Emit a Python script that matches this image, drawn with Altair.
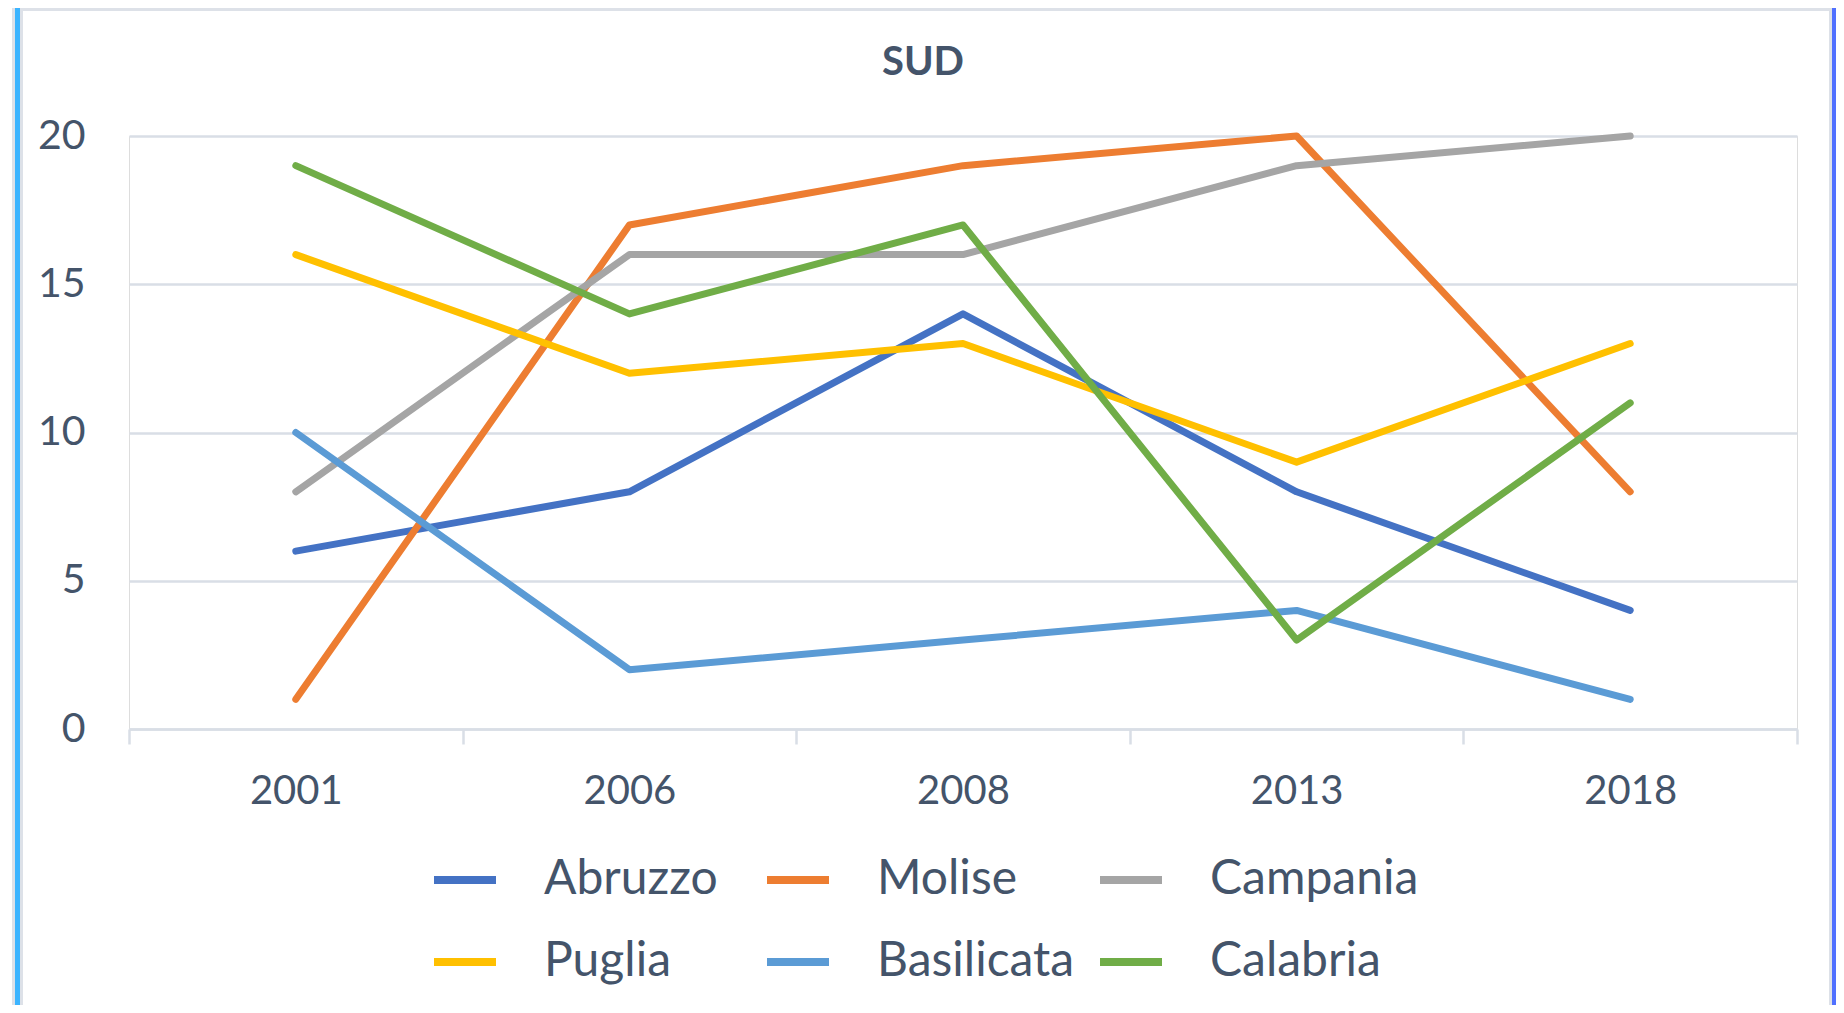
import altair as alt
import pandas as pd

years = ["2001", "2006", "2008", "2013", "2018"]
series = ["Abruzzo", "Molise", "Campania", "Puglia", "Basilicata", "Calabria"]
colors = ["#4472C4", "#ED7D31", "#A5A5A5", "#FFC000", "#5B9BD5", "#70AD47"]

abruzzo = [6, 8, 14, 8, 4]
molise = [1, 17, 19, 20, 8]
campania = [8, 16, 16, 19, 20]
puglia = [16, 12, 13, 9, 13]
basilicata = [10, 2, 3, 4, 1]
calabria = [19, 14, 17, 3, 11]

values = [abruzzo, molise, campania, puglia, basilicata, calabria]
rows = []
for name, vals in zip(series, values):
    for yr, v in zip(years, vals):
        rows.append({"Anno": yr, "Regione": name, "Valore": v})
df = pd.DataFrame(rows)

FONT = "Lato"
TEXT = "#44546A"
GRID = "#D9DEE6"

x_enc = alt.X(
    "Anno:N",
    sort=years,
    bandPosition=0.5,
    scale=alt.Scale(type="band", paddingInner=0, paddingOuter=0),
    axis=alt.Axis(
        title=None, labelAngle=0, labelFont=FONT, labelFontSize=40, labelColor=TEXT,
        domainColor=GRID, domainWidth=2.5, tickColor=GRID, tickWidth=2.5, tickSize=15,
        tickBand="extent", labelPadding=27, grid=False,
    ),
)
y_enc = alt.Y(
    "Valore:Q",
    scale=alt.Scale(domain=[0, 20], nice=False),
    axis=alt.Axis(
        title=None, values=[0, 5, 10, 15, 20], labelFont=FONT, labelFontSize=41,
        labelColor=TEXT, domain=False, ticks=False, tickSize=0, labelPadding=44,
        gridColor=GRID, gridWidth=2.5,
    ),
)
color_enc = alt.Color(
    "Regione:N",
    sort=series,
    scale=alt.Scale(domain=series, range=colors),
    legend=alt.Legend(
        title=None, orient="none", legendX=301, legendY=709, direction="horizontal",
        columns=3, gridAlign="all", columnPadding=-2, rowPadding=23, padding=0,
        symbolType="stroke", symbolSize=3844, symbolStrokeWidth=8,
        labelFont=FONT, labelFontSize=48, labelColor=TEXT, labelOffset=44,
        labelLimit=500,
    ),
)

base = alt.Chart(df).mark_line(strokeWidth=7, strokeCap="round", strokeJoin="round").encode(
    x=x_enc, y=y_enc, color=color_enc
)
lines = [base.transform_filter(alt.datum.Regione == s) for s in series]

one = pd.DataFrame({"k": [0]})


def band(x1, x2, y1, y2, col):
    return alt.Chart(one).mark_rect(color=col).encode(
        x=alt.value(x1), x2=alt.value(x2), y=alt.value(y1), y2=alt.value(y2)
    )


deco = [
    band(-117, -106, -128, 869, "#DDE1E8"),
    band(-114, -109, -128, 869, "#3BB4FF"),
    band(-106, 1703, -128, -125, "#DDE1E8"),
    band(1700, 1703, -125, 869, "#DDE1E8"),
    band(1703, 1707, -128, 869, "#5070FF"),
]

chart = alt.layer(*deco, *lines).properties(
    width=1668,
    height=593,
    title=alt.TitleParams(
        "SUD", font=FONT, fontSize=40, fontWeight="bold", color=TEXT,
        anchor="middle", frame="group", dx=-40, offset=-75,
    ),
    autosize=alt.AutoSizeParams(type="none"),
    padding={"left": 121, "top": 128, "right": 39, "bottom": 276},
).configure_view(stroke=None).configure(background="white")

chart.save("out.html", embed_options={"renderer": "svg", "actions": False})
